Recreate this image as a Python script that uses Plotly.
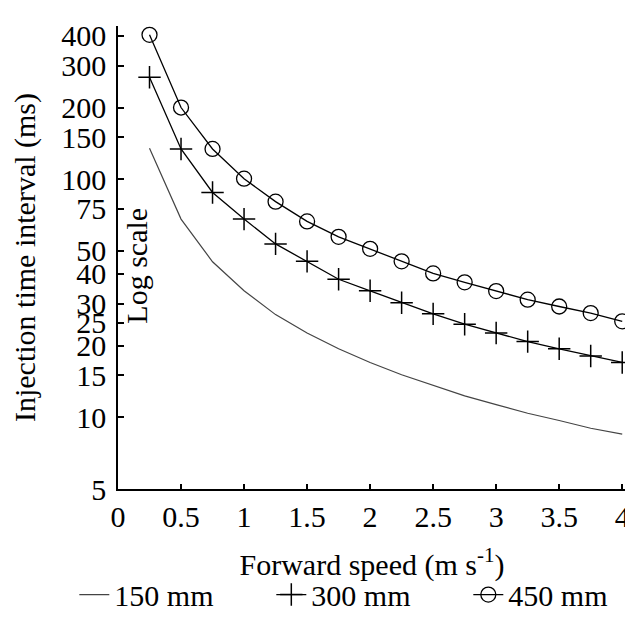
import numpy as np
import plotly.graph_objects as go

# Forward speed (m/s) and injection time interval (ms)
speed = [0.25, 0.5, 0.75, 1.0, 1.25, 1.5, 1.75, 2.0, 2.25, 2.5, 2.75, 3.0, 3.25, 3.5, 3.75, 4.0]
interval_150 = [135, 68, 45, 34, 27, 22.6, 19.4, 17.0, 15.1, 13.6, 12.3, 11.3, 10.4, 9.7, 9.0, 8.5]
interval_300 = [268, 134, 88, 68, 53.5, 45.2, 38, 34, 30.3, 27.2, 24.6, 22.6, 20.8, 19.4, 18.1, 17.0]
interval_450 = [404, 200, 134, 100.5, 80.5, 66.5, 57.3, 51, 45.2, 40.2, 36.9, 33.9, 31.2, 29.2, 27.4, 25.3]

x_ticks = [0, 0.5, 1, 1.5, 2, 2.5, 3, 3.5, 4]
x_labels = ["0", "0.5", "1", "1.5", "2", "2.5", "3", "3.5", "4"]
y_ticks = [5, 10, 15, 20, 25, 30, 40, 50, 75, 100, 150, 200, 300, 400]
y_labels = ["5", "10", "15", "20", "25", "30", "40", "50", "75", "100", "150", "200", "300", "400"]

FONT = "Liberation Serif, Times New Roman, serif"

fig = go.Figure()

# 150 mm - thin grey line
fig.add_trace(go.Scatter(x=speed, y=interval_150, mode="lines", name="150 mm",
                         line=dict(color="#444444", width=1.2), legendwidth=152))

# 300 mm - line with + markers
fig.add_trace(go.Scatter(x=speed, y=interval_300, mode="lines+markers", name="300 mm",
                         line=dict(color="black", width=1.3), legendwidth=152,
                         marker=dict(symbol="cross-thin-open", size=16,
                                     line=dict(color="black", width=1.5))))

# 450 mm - line with open circles
fig.add_trace(go.Scatter(x=speed, y=interval_450, mode="lines+markers", name="450 mm",
                         line=dict(color="black", width=1.3),
                         marker=dict(symbol="circle-open", size=15,
                                     line=dict(color="black", width=1.3))))

fig.update_xaxes(range=[0, 4.03], tickvals=x_ticks, ticktext=x_labels,
                 ticks="inside", ticklen=5, tickwidth=1.5, tickcolor="black",
                 showline=True, linecolor="black", linewidth=1.5,
                 showgrid=False, zeroline=False,
                 tickfont=dict(family=FONT, size=30, color="black"),
                 title=dict(text="Forward speed (m s<sup>-1</sup>)", standoff=22,
                            font=dict(family=FONT, size=30, color="black")))

fig.update_yaxes(type="log", range=[np.log10(5), np.log10(440)],
                 tickvals=y_ticks, ticktext=y_labels,
                 ticks="inside", ticklen=6, tickwidth=1.5, tickcolor="black",
                 showline=True, linecolor="black", linewidth=1.5,
                 showgrid=False, zeroline=False, ticklabelstandoff=4,
                 tickfont=dict(family=FONT, size=30, color="black"),
                 title=dict(text="Injection time interval (ms)", standoff=19,
                            font=dict(family=FONT, size=30, color="black")))

fig.add_annotation(text="Log scale", xref="paper", yref="paper", x=0.037, y=0.482,
                   xanchor="center", yanchor="middle", textangle=-90, showarrow=False,
                   font=dict(family=FONT, size=30, color="black"))

fig.update_layout(width=633, height=624,
                  margin=dict(l=110, r=11, t=15, b=127),
                  paper_bgcolor="white", plot_bgcolor="white",
                  font=dict(family=FONT, size=30, color="black"),
                  showlegend=True,
                  legend=dict(orientation="h", x=-0.086, y=-0.228, xanchor="left", yanchor="middle",
                              font=dict(family=FONT, size=30, color="black"),
                              bgcolor="rgba(0,0,0,0)"))

fig.write_html("out.html")
